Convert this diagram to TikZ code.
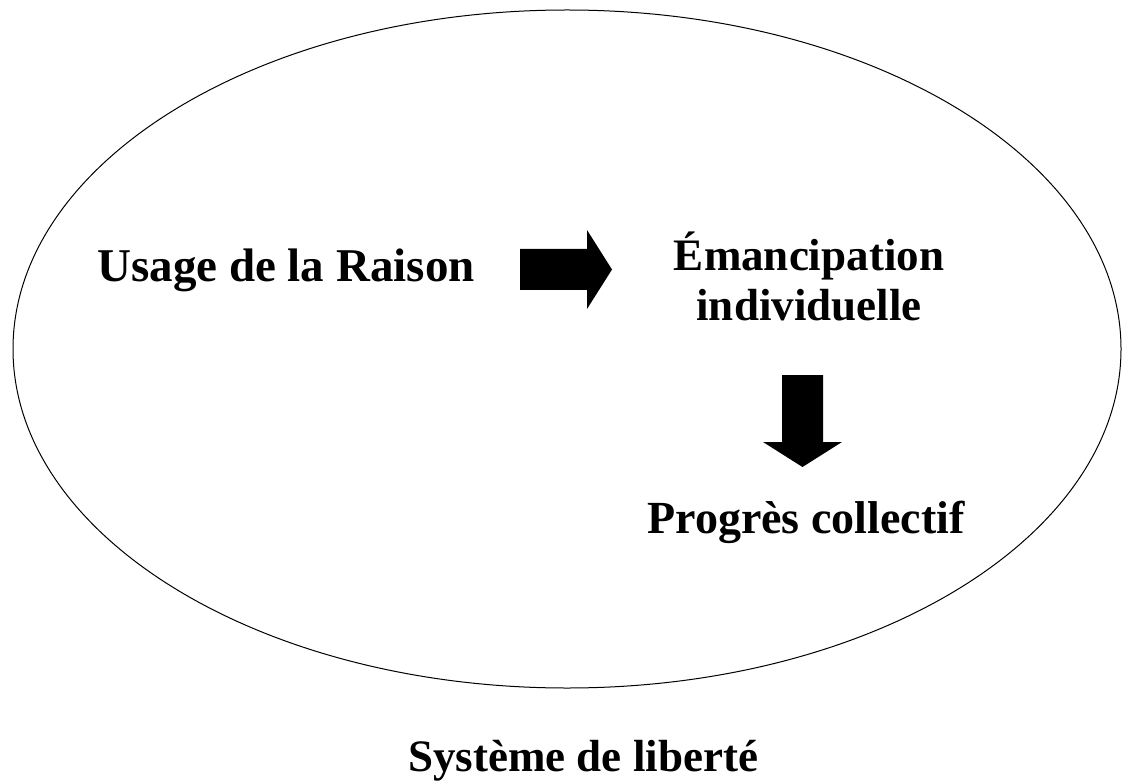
\documentclass[tikz,border=0pt]{standalone}
\usepackage{fontspec}
\setmainfont{Liberation Serif}
\begin{document}
\begin{tikzpicture}[x=1pt,y=-1pt,
  lbl/.style={font=\bfseries\fontsize{45}{50}\selectfont, inner sep=0pt, anchor=base},
  blockarrow/.style={fill=black}]
\useasboundingbox (0,0) rectangle (1123,783);
\draw[line width=1pt] (567,349) ellipse [x radius=554, y radius=339];
\node[lbl, font=\bfseries\fontsize{47}{50}\selectfont] (usage) at (286,282) {Usage de la Raison};
\node[lbl, align=center] (eman) at (809,320) {Émancipation\\individuelle};
\node[lbl, font=\bfseries\fontsize{46}{50}\selectfont] (prog) at (806,533) {Progrès collectif};
\node[lbl] (sys) at (583,771) {Système de liberté};
% right block arrow (usage -> eman)
\fill[blockarrow] (520,249) -- (587,249) -- (587,230) -- (612,269.5) -- (587,309) -- (587,290) -- (520,290) -- cycle;
% down block arrow (eman -> prog)
\fill[blockarrow] (782,375) -- (823,375) -- (823,442) -- (842,442) -- (802.5,467) -- (763,442) -- (782,442) -- cycle;
\end{tikzpicture}
\end{document}
